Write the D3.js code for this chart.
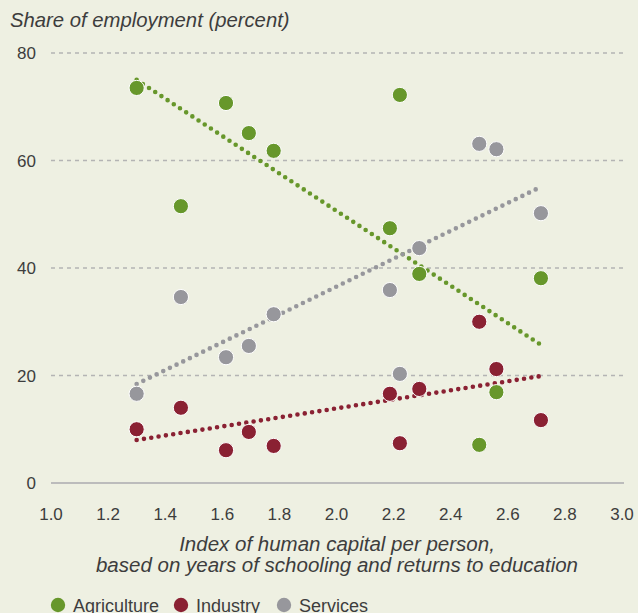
<!doctype html>
<html lang="en">
  <head>
    <meta charset="utf-8">
    <title>employment vs human capital</title>
    <style>
        body {
            margin: 0;
            background-color: #eef0e2;
        }
        text {
            font-family: "Liberation Sans", Arial, sans-serif;
            fill: #3d3d3d;
        }
        .grid line {
            stroke: #b4b4b4;
            stroke-width: 1.3;
            stroke-dasharray: 4, 4;
        }
        .trend {
            fill: none;
            stroke-width: 4.6;
            stroke-linecap: round;
            stroke-dasharray: 0, 7.4;
        }
        .dot {
            stroke: #ffffff;
            stroke-width: 1;
        }
    </style>
  </head>
  <body>
    <div id="graph"></div>
    <script src="https://d3js.org/d3.v7.min.js"></script>
    <script>
    // countries' human capital index (x) and employment shares by sector
    var hci         = [1.30, 1.455, 1.613, 1.693, 1.78, 2.187, 2.222, 2.29, 2.50, 2.56, 2.716];
    var agriculture = [73.5, 51.5, 70.7, 65.1, 61.8, 47.4, 72.2, 38.9, 7.1, 16.9, 38.1];
    var industry    = [10.0, 14.0, 6.1, 9.5, 6.9, 16.6, 7.4, 17.5, 30.0, 21.2, 11.7];
    var services    = [16.6, 34.6, 23.4, 25.5, 31.4, 35.9, 20.3, 43.7, 63.1, 62.1, 50.2];

    // fitted trend lines: [x0, y0, x1, y1]
    var agriTrend = [1.30, 75.0, 2.716, 25.7];
    var indTrend  = [1.30, 8.0, 2.716, 19.9];
    var servTrend = [1.30, 18.4, 2.716, 55.1];

    var xTicks = [1.0, 1.2, 1.4, 1.6, 1.8, 2.0, 2.2, 2.4, 2.6, 2.8, 3.0];
    var yTicks = [0, 20, 40, 60, 80];

    var seriesNames = ["Agriculture", "Industry", "Services"];
    var colors = ["#67972b", "#8a2133", "#97979c"];

    var width = 638, height = 613;
    var plotLeft = 51, plotRight = 622, plotTop = 53, plotBottom = 483;

    var svg = d3.select("#graph")
                .append("svg")
                .attr("width", width)
                .attr("height", height);

    var x = d3.scaleLinear().domain([1.0, 3.0]).range([plotLeft, plotRight]);
    var y = d3.scaleLinear().domain([0, 80]).range([plotBottom, plotTop]);

    // title
    svg.append("text")
        .attr("x", 10)
        .attr("y", 27)
        .style("font-size", "20.3px")
        .style("font-style", "italic")
        .text("Share of employment (percent)");

    // horizontal gridlines
    svg.append("g")
        .attr("class", "grid")
        .selectAll("line")
        .data(yTicks.filter(function(d) { return d > 0; }))
        .enter().append("line")
        .attr("x1", plotLeft)
        .attr("x2", plotRight + 2)
        .attr("y1", function(d) { return y(d); })
        .attr("y2", function(d) { return y(d); });

    // zero baseline
    svg.append("line")
        .attr("x1", plotLeft)
        .attr("x2", plotRight + 2)
        .attr("y1", y(0))
        .attr("y2", y(0))
        .attr("stroke", "#bcbcbc")
        .attr("stroke-width", 2);

    // y tick labels
    svg.selectAll(".ylab")
        .data(yTicks)
        .enter().append("text")
        .attr("class", "ylab")
        .attr("x", 36)
        .attr("y", function(d) { return y(d) + 6; })
        .attr("text-anchor", "end")
        .style("font-size", "17px")
        .text(function(d) { return d; });

    // x tick labels
    svg.selectAll(".xlab")
        .data(xTicks)
        .enter().append("text")
        .attr("class", "xlab")
        .attr("x", function(d) { return x(d); })
        .attr("y", 520)
        .attr("text-anchor", "middle")
        .style("font-size", "17px")
        .text(function(d) { return d.toFixed(1); });

    // x axis title
    var xTitle = svg.append("text")
        .attr("text-anchor", "middle")
        .style("font-size", "20.5px")
        .style("font-style", "italic");
    xTitle.append("tspan")
        .attr("x", 337).attr("y", 551)
        .text("Index of human capital per person,");
    xTitle.append("tspan")
        .attr("x", 337).attr("y", 572)
        .text("based on years of schooling and returns to education");

    // trend lines
    var trends = [agriTrend, indTrend, servTrend];
    svg.selectAll(".trend")
        .data(trends)
        .enter().append("line")
        .attr("class", "trend")
        .attr("x1", function(d) { return x(d[0]); })
        .attr("y1", function(d) { return y(d[1]); })
        .attr("x2", function(d) { return x(d[2]); })
        .attr("y2", function(d) { return y(d[3]); })
        .attr("stroke", function(d, i) { return colors[i]; });

    // scatter points
    var series = [agriculture, industry, services];
    series.forEach(function(vals, s) {
        svg.append("g")
            .selectAll("circle")
            .data(vals)
            .enter().append("circle")
            .attr("class", "dot")
            .attr("cx", function(d, i) { return x(hci[i]); })
            .attr("cy", function(d) { return y(d); })
            .attr("r", 7.6)
            .attr("fill", colors[s]);
    });

    // legend
    var legendX = [58, 181, 284];
    var legend = svg.selectAll(".legend")
        .data(seriesNames)
        .enter().append("g")
        .attr("class", "legend")
        .attr("transform", function(d, i) { return "translate(" + legendX[i] + ",605)"; });
    legend.append("circle")
        .attr("r", 7.2)
        .attr("fill", function(d, i) { return colors[i]; });
    legend.append("text")
        .attr("x", 15)
        .attr("y", 7)
        .style("font-size", "18px")
        .text(function(d) { return d; });
    </script>
  </body>
</html>
